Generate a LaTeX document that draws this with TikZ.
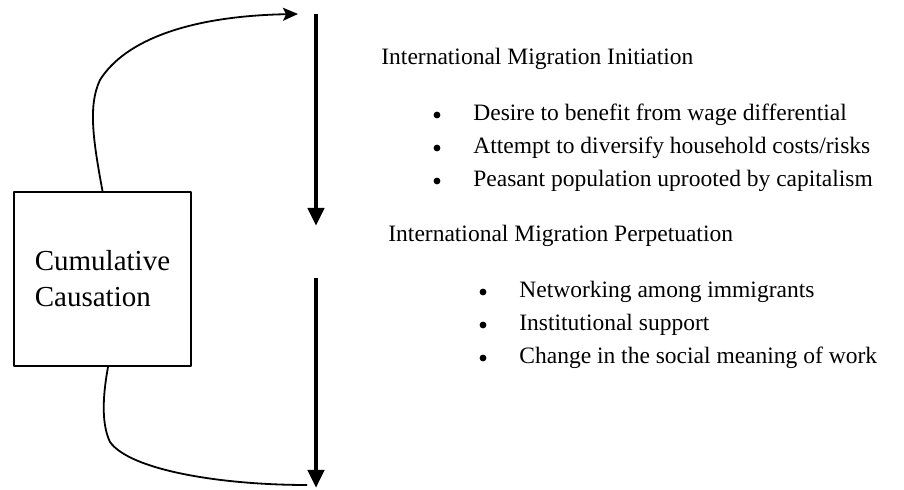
\documentclass[tikz,border=0pt]{standalone}
\usepackage{fontspec}
\setmainfont{Liberation Serif}
\usetikzlibrary{arrows.meta}

\begin{document}
\begin{tikzpicture}[x=0.5pt, y=-0.5pt, line join=round,
  flow/.style={line width=2.3pt, -{Triangle[length=9pt,width=8pt]}},
  feedback/.style={line width=0.9pt},
  heading/.style={anchor=base west, inner sep=0pt, font=\rmfamily\fontsize{11.75}{14}\selectfont},
  entry/.style={anchor=base west, inner sep=0pt, font=\rmfamily\fontsize{11.75}{14}\selectfont},
  dot/.style={circle, fill, inner sep=0pt, minimum size=3.4pt}]
  \useasboundingbox (0,0) rectangle (904,490);

  % box on the left
  \node[draw, line width=1pt, minimum width=88.5pt, minimum height=87pt, align=left,
        font=\rmfamily\fontsize{14.5}{18}\selectfont] (cause) at (102.5,279) {Cumulative\\Causation};

  % the two downward flows
  \coordinate (inittop) at (316,14);
  \coordinate (initend) at (316,226);
  \coordinate (perptop) at (316,278);
  \coordinate (perpend) at (316,488);
  \draw[flow] (inittop) -- (initend);
  \draw[flow] (perptop) -- (perpend);

  % feedback curves out of the box
  \coordinate (feedin) at (298,14);
  \coordinate (feedout) at (307,485);
  \draw[feedback, -{Stealth[length=7.5pt,width=6.5pt,inset=1.5pt]}] (cause.north)
    .. controls (93,140) and (88,105) .. (100,80)
    .. controls (125,40) and (190,16) .. (feedin);
  \draw[feedback] ([xshift=2.75pt]cause.south)
    .. controls (102,400) and (102,425) .. (110,442)
    .. controls (130,470) and (220,485) .. (feedout);

  % first stage
  \node[heading] (initiation) at (381,65) {International Migration Initiation};
  \foreach \txt [count=\i, evaluate=\i as \y using 88+33*\i] in
    {Desire to benefit from wage differential,
     Attempt to diversify household costs/risks,
     Peasant population uprooted by capitalism} {
    \node[dot] (initdot\i) at (437,\y-6) {};
    \node[entry] (initem\i) at (473,\y) {\txt};
  }

  % second stage
  \node[heading] (perpetuation) at (388,242) {International Migration Perpetuation};
  \foreach \txt [count=\i, evaluate=\i as \y using 265+33*\i] in
    {Networking among immigrants,
     Institutional support,
     Change in the social meaning of work} {
    \node[dot] (perpdot\i) at (483,\y-6) {};
    \node[entry] (perpitem\i) at (519,\y) {\txt};
  }
\end{tikzpicture}
\end{document}
